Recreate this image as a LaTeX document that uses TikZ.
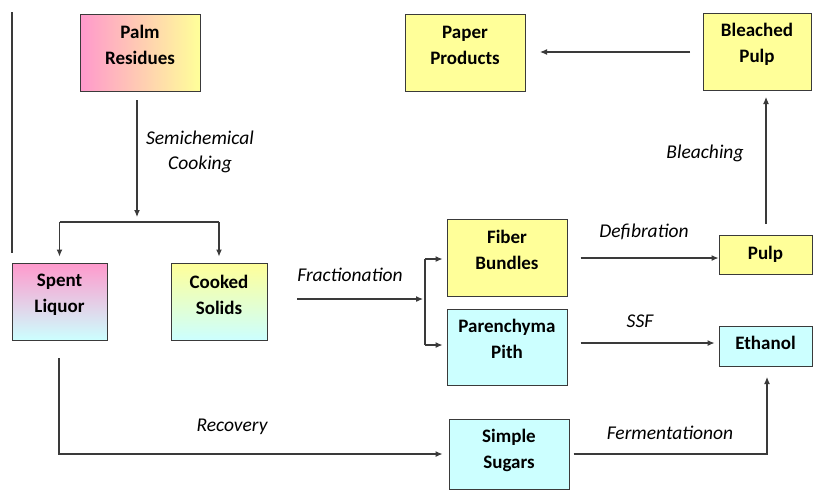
\documentclass[tikz,border=0pt]{standalone}
\usepackage{fontspec}
\setmainfont{Carlito}
\usetikzlibrary{arrows.meta}
\definecolor{boxyellow}{HTML}{FFFF99}
\definecolor{boxcyan}{HTML}{CCFFFF}
\definecolor{boxpink}{HTML}{FF99CC}
\definecolor{edge}{HTML}{3A3A3A}
\tikzset{
  proc/.style={draw=edge, line width=1pt, inner sep=0pt},
  yel/.style={proc, fill=boxyellow},
  cya/.style={proc, fill=boxcyan},
  txt/.style={align=center, inner sep=0pt, font=\fontsize{19}{26}\selectfont\bfseries},
  flow/.style={draw=edge, line width=1.1pt, -{Latex[length=7pt,width=6pt]}},
  plain/.style={draw=edge, line width=1.1pt},
  lbl/.style={font=\fontsize{19.5}{25}\selectfont\itshape, align=center, inner sep=0pt},
}
\begin{document}
\begin{tikzpicture}[x=1pt,y=1pt]
\useasboundingbox (0,0) rectangle (813,-491);

% process boxes
\node[proc, minimum width=120pt, minimum height=77pt, left color=boxpink, right color=boxyellow]
  (palm) at (140,-53) {};
\node[proc, minimum width=95pt, minimum height=77pt, top color=boxpink, bottom color=boxcyan]
  (spent) at (59.5,-301.5) {};
\node[proc, minimum width=96pt, minimum height=77pt, top color=boxyellow, bottom color=boxcyan]
  (cooked) at (219,-301.5) {};
\node[yel, minimum width=120pt, minimum height=77pt] (fiber) at (507,-257.5) {};
\node[cya, minimum width=120pt, minimum height=76pt] (paren) at (507,-347) {};
\node[cya, minimum width=120pt, minimum height=70pt] (sugars) at (509,-454) {};
\node[yel, minimum width=93pt, minimum height=39pt] (pulp) at (765.5,-254.5) {};
\node[cya, minimum width=93pt, minimum height=40pt] (ethanol) at (765.5,-346) {};
\node[yel, minimum width=108pt, minimum height=77pt] (bleached) at (757,-51.5) {};
\node[yel, minimum width=120pt, minimum height=77pt] (paper) at (465,-53) {};

% box captions, set slightly above centre
\node[txt] (palm-t) at ([yshift=8pt]palm) {Palm\\Residues};
\node[txt] (spent-t) at ([yshift=7pt]spent) {Spent\\Liquor};
\node[txt] (cooked-t) at ([yshift=7pt]cooked) {Cooked\\Solids};
\node[txt] (fiber-t) at ([yshift=8pt]fiber) {Fiber\\Bundles};
\node[txt] (paren-t) at ([yshift=8pt]paren) {Parenchyma\\Pith};
\node[txt] (sugars-t) at ([yshift=4pt]sugars) {Simple\\Sugars};
\node[txt] (pulp-t) at (pulp) {Pulp};
\node[txt] (ethanol-t) at ([yshift=3pt]ethanol) {Ethanol};
\node[txt] (bleached-t) at ([yshift=7pt]bleached) {Bleached\\Pulp};
\node[txt] (paper-t) at ([yshift=8pt]paper) {Paper\\Products};

% left margin rule
\draw[plain] (12,-12) -- (12,-253);

% cooking split
\coordinate (split) at (137,-222);
\draw[flow] (137,-100) -- (137,-217);
\draw[plain] (spent.north |- split) -- (cooked.north |- split);
\draw[flow] (spent.north |- split) -- ([yshift=6pt]spent.north);
\draw[flow] (cooked.north |- split) -- ([yshift=6pt]cooked.north);
\node[lbl] (lcook) at (200,-152) {Semichemical\\Cooking};

% fractionation
\coordinate (frk) at (425,-299);
\draw[flow] (297,-299) -- ([xshift=-2pt]frk);
\draw[plain] (425,-259) -- (425,-345);
\draw[flow] (425,-259) -- ([xshift=-4pt]fiber.west |- 0,-259);
\draw[flow] (425,-345) -- ([xshift=-4pt]paren.west |- 0,-345);
\node[lbl] (lfrac) at (350,-275) {Fractionation};

% recovery
\coordinate (rc) at (59,-454);
\draw[flow] (59,-358) -- (rc) -- ([xshift=-6pt]sugars.west |- rc);
\node[lbl] (lrec) at (232,-427) {Recovery};

% defibration, SSF, fermentation
\draw[flow] ([xshift=13pt]fiber.east |- 0,-258) -- (pulp.west |- 0,-258);
\node[lbl] (ldef) at (644,-232) {Defibration};
\draw[flow] ([xshift=13pt]paren.east |- 0,-343) -- ([xshift=-4pt]ethanol.west |- 0,-343);
\node[lbl] (lssf) at (640,-321) {SSF};
\coordinate (fc) at (767,-454);
\draw[flow] ([xshift=4pt]sugars.east |- fc) -- (fc) -- (767,-377);
\node[lbl] (lfer) at (670,-433) {Fermentationon};

% bleaching and paper
\draw[flow] (766,-224) -- (766,-97);
\node[lbl] (lble) at (705,-153) {Bleaching};
\draw[flow] (690,-52) -- (540,-52);
\end{tikzpicture}
\end{document}
